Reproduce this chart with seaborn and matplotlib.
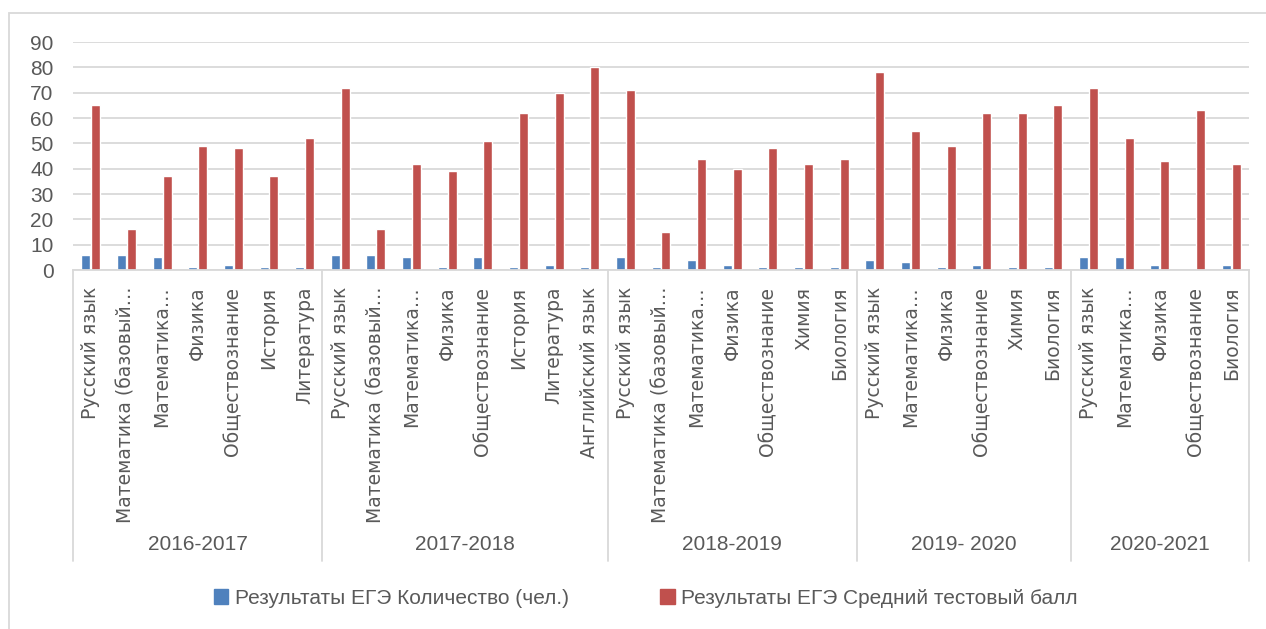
import numpy as np
import matplotlib
matplotlib.use("Agg")
import matplotlib.pyplot as plt
from matplotlib.patches import Rectangle
from matplotlib.lines import Line2D
import matplotlib.transforms as mtransforms
import seaborn as sns
import pandas as pd

# data
years = ["2016-2017", "2017-2018", "2018-2019", "2019- 2020", "2020-2021"]

subjects_2017 = ["Русский язык", "Математика (базовый…", "Математика…", "Физика",
                 "Обществознание", "История", "Литература"]
subjects_2018 = ["Русский язык", "Математика (базовый…", "Математика…", "Физика",
                 "Обществознание", "История", "Литература", "Английский язык"]
subjects_2019 = ["Русский язык", "Математика (базовый…", "Математика…", "Физика",
                 "Обществознание", "Химия", "Биология"]
subjects_2020 = ["Русский язык", "Математика…", "Физика", "Обществознание",
                 "Химия", "Биология"]
subjects_2021 = ["Русский язык", "Математика…", "Физика", "Обществознание", "Биология"]

count_2017 = [6, 6, 5, 1, 2, 1, 1]
count_2018 = [6, 6, 5, 1, 5, 1, 2, 1]
count_2019 = [5, 1, 4, 2, 1, 1, 1]
count_2020 = [4, 3, 1, 2, 1, 1]
count_2021 = [5, 5, 2, 0, 2]

score_2017 = [65, 16, 37, 49, 48, 37, 52]
score_2018 = [72, 16, 42, 39, 51, 62, 70, 80]
score_2019 = [71, 15, 44, 40, 48, 42, 44]
score_2020 = [78, 55, 49, 62, 62, 65]
score_2021 = [72, 52, 43, 63, 42]

series_names = ["Результаты ЕГЭ Количество (чел.)", "Результаты ЕГЭ Средний тестовый балл"]

subjects = [subjects_2017, subjects_2018, subjects_2019, subjects_2020, subjects_2021]
counts = [count_2017, count_2018, count_2019, count_2020, count_2021]
scores = [score_2017, score_2018, score_2019, score_2020, score_2021]

# build a long table
rows = []
labels = []
pos = 0
for subj, cnt, sc in zip(subjects, counts, scores):
    for s, c, v in zip(subj, cnt, sc):
        rows.append({"pos": pos, "series": series_names[0], "value": c})
        rows.append({"pos": pos, "series": series_names[1], "value": v})
        labels.append(s)
        pos += 1
df = pd.DataFrame(rows)

sns.set_theme(style="white")
plt.rcParams['font.family'] = ['Liberation Sans Narrow', 'Liberation Sans', 'DejaVu Sans']
text_col = "#595959"
grid_col = "#D9D9D9"

fig = plt.figure(figsize=(12.66, 6.29), dpi=100)
W, H = 1266, 629
ax = fig.add_axes([73 / W, 1 - 270 / H, (1249 - 73) / W, (270 - 42) / H])

sns.barplot(data=df, x="pos", y="value", hue="series", palette=["#4F81BD", "#C0504D"],
            width=0.56, gap=0.1, ax=ax, legend=False, saturation=1)

ax.set_ylim(0, 90)
ax.set_xlim(-0.5, len(labels) - 0.5)
ax.set_yticks(np.arange(0, 91, 10))
ax.yaxis.grid(True, color=grid_col, linewidth=1.3)
ax.set_axisbelow(True)
for sp in ["top", "right", "left"]:
    ax.spines[sp].set_visible(False)
ax.spines["bottom"].set_color(grid_col)
ax.spines["bottom"].set_linewidth(1.3)
ax.set_xlabel("")
ax.set_ylabel("")
ax.tick_params(axis="y", labelsize=15, colors=text_col, length=0, pad=14)
ax.set_xticks(range(len(labels)))
ax.set_xticklabels(labels, rotation=90, fontsize=13.5, color=text_col,
                   family=['DejaVu Sans'])
ax.tick_params(axis="x", length=0, pad=12)

# multi-level category axis: group separators and year labels
trans = mtransforms.blended_transform_factory(ax.transData, ax.transAxes)
y_bottom = -(561 - 270) / 228
y_label = -(545 - 270) / 228
start = -0.5
for yr, subj in zip(years, subjects):
    end = start + len(subj)
    ax.add_line(Line2D([start, start], [0, y_bottom], transform=trans, color=grid_col,
                       linewidth=1.3, clip_on=False))
    ax.text((start + end) / 2, y_label, yr, transform=trans, ha="center", va="center",
            fontsize=15, color=text_col)
    start = end
ax.add_line(Line2D([start, start], [0, y_bottom], transform=trans, color=grid_col,
                   linewidth=1.3, clip_on=False))

# legend
handles = [Rectangle((0, 0), 1, 1, color="#4F81BD"), Rectangle((0, 0), 1, 1, color="#C0504D")]
fig.legend(handles, series_names, loc="center", bbox_to_anchor=(0.51, 1 - 598 / H), ncol=2,
           frameon=False, fontsize=15, handlelength=0.7, handleheight=0.7, handletextpad=0.3,
           columnspacing=4.4, labelcolor=text_col)

# chart border
fig.patches.append(Rectangle((9 / W, -0.1), 1.1, 1 - 13 / H + 0.1, transform=fig.transFigure,
                             fill=False, edgecolor=grid_col, linewidth=1.3))

fig.savefig("out.png", dpi=100)
